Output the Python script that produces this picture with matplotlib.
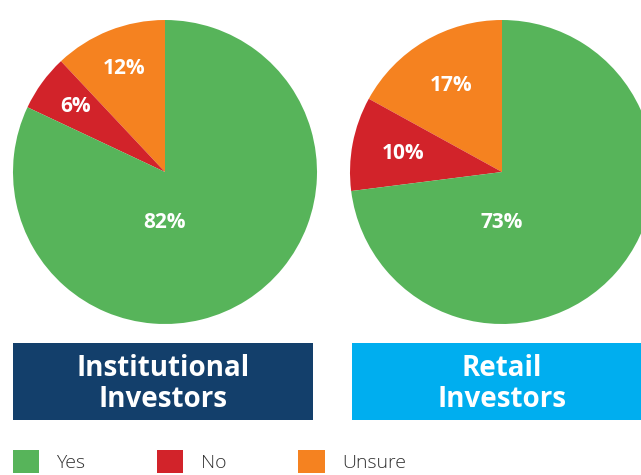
import matplotlib.pyplot as plt
from matplotlib.patches import Rectangle, Patch

# shares in % (order: Unsure, No, Yes -> drawn counter-clockwise from 12 o'clock)
categories = ["Unsure", "No", "Yes"]
institutional = [12, 6, 82]
retail = [17, 10, 73]
box_titles = ["Institutional\nInvestors", "Retail\nInvestors"]
legend_order = ["Yes", "No", "Unsure"]

colors = {"Yes": "#57b45a", "No": "#d2232a", "Unsure": "#f58220"}
box_colors = ["#133f6b", "#00aeef"]

W, H = 641, 475
fig = plt.figure(figsize=(W / 100, H / 100), dpi=100)


def px_axes(x0, y0, x1, y1):
    # pixel box (top-left origin) -> figure fraction axes
    return fig.add_axes([x0 / W, 1 - y1 / H, (x1 - x0) / W, (y1 - y0) / H])


def draw_pie(ax, values, pctdist):
    wedges, _, texts = ax.pie(
        values, colors=[colors[c] for c in categories], startangle=90,
        counterclock=True, autopct="%d%%", pctdistance=pctdist,
        textprops=dict(color="white", fontsize=15, fontweight="bold",
                       family=["Open Sans", "DejaVu Sans"]),
        wedgeprops=dict(linewidth=0))
    # the big "Yes" label sits just below the centre
    texts[-1].set_position((0.0, -0.33))
    ax.set_xlim(-1, 1)
    ax.set_ylim(-1, 1)
    ax.set_aspect("equal")
    ax.axis("off")


draw_pie(px_axes(13, 20, 317, 324), institutional, 0.73)
draw_pie(px_axes(350, 20, 654, 324), retail, 0.66)

# title boxes
bg = fig.add_axes([0, 0, 1, 1])
bg.set_xlim(0, W)
bg.set_ylim(H, 0)
bg.axis("off")
bg.patch.set_alpha(0)
for (x0, x1), title, col in zip([(13, 313), (352, 660)], box_titles, box_colors):
    bg.add_patch(Rectangle((x0, 343), x1 - x0, 77, color=col, lw=0))
    cx = (x0 + x1) / 2 if x1 < W else 502
    bg.text(cx, 384, title, ha="center", va="center", color="white",
            fontsize=20, fontweight="bold", linespacing=1.1,
            family=["Open Sans", "DejaVu Sans"])

handles = [Patch(facecolor=colors[c], edgecolor="none") for c in legend_order]
fig.legend(handles, legend_order, loc="upper left",
           bbox_to_anchor=(-5 / W, 1 - 432 / H), ncol=3, frameon=False,
           prop=dict(family=["Open Sans", "DejaVu Sans"], size=14, weight="light"),
           labelcolor="#333333", handlelength=1.35, handleheight=1.5,
           handletextpad=0.9, columnspacing=3.7)

fig.savefig("out.png", dpi=100)
